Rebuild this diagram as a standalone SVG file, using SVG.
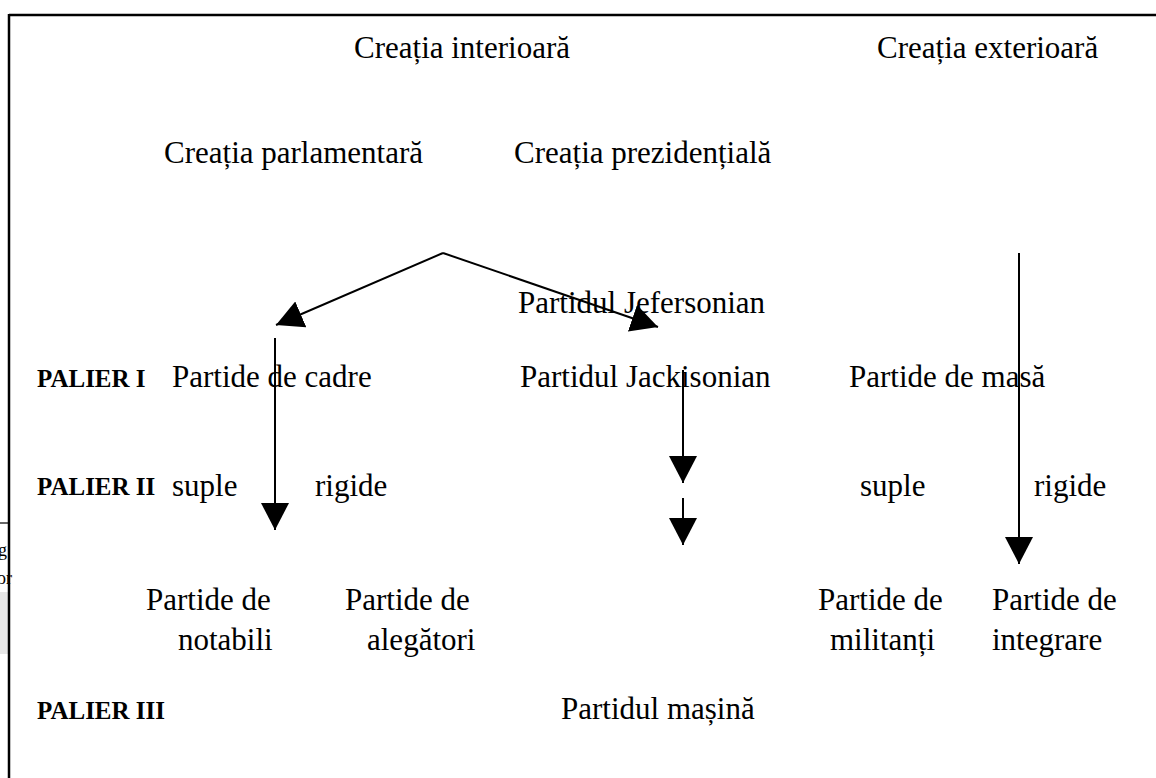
<svg xmlns="http://www.w3.org/2000/svg" width="1156" height="778" viewBox="0 0 1156 778">
  <defs>
    <marker id="head" viewBox="0 0 27 28" markerWidth="27" markerHeight="28" refX="27" refY="14" orient="auto" markerUnits="userSpaceOnUse">
      <path d="M0,0 L27,14 L0,28 Z" fill="#000"/>
    </marker>
    <style>
      .t { font-family: "Liberation Serif", "Times New Roman", serif; font-size: 31px; fill: #000; }
      .lvl { font-family: "Liberation Serif", "Times New Roman", serif; font-size: 25px; font-weight: bold; fill: #000; }
      .side { font-family: "Liberation Serif", "Times New Roman", serif; font-size: 18px; fill: #000; }
      .edge { stroke: #000; stroke-width: 2; fill: none; }
    </style>
  </defs>

  <rect width="1156" height="778" fill="#fff"/>

  <!-- neighbouring page fragment at the left margin -->
  <g id="margin">
    <line x1="0" y1="523" x2="9" y2="523" stroke="#333" stroke-width="1.5"/>
    <text class="side" x="-2" y="556">g</text>
    <text class="side" x="-3" y="584">or</text>
    <rect x="0" y="592" width="9" height="62" fill="#e6e6e6"/>
  </g>

  <!-- frame -->
  <g id="frame">
    <line x1="9" y1="15" x2="1156" y2="15" stroke="#000" stroke-width="2.5"/>
    <line x1="9" y1="14" x2="9" y2="778" stroke="#000" stroke-width="2.5"/>
  </g>

  <g id="creatia-interioara"><text class="t" x="354" y="58">Creația interioară</text></g>
  <g id="creatia-exterioara"><text class="t" x="877" y="58">Creația exterioară</text></g>
  <g id="creatia-parlamentara"><text class="t" x="164" y="163">Creația parlamentară</text></g>
  <g id="creatia-prezidentiala"><text class="t" x="514" y="163">Creația prezidențială</text></g>
  <g id="partidul-jefersonian"><text class="t" x="518" y="313">Partidul Jefersonian</text></g>

  <g id="palier-1"><text class="lvl" x="37" y="387">PALIER I</text></g>
  <g id="partide-cadre"><text class="t" x="172" y="387">Partide de cadre</text></g>
  <g id="partidul-jackisonian"><text class="t" x="520" y="387">Partidul Jackisonian</text></g>
  <g id="partide-masa"><text class="t" x="849" y="387">Partide de masă</text></g>

  <g id="palier-2"><text class="lvl" x="37" y="495">PALIER II</text></g>
  <g id="suple-cadre"><text class="t" x="172" y="496">suple</text></g>
  <g id="rigide-cadre"><text class="t" x="315" y="496">rigide</text></g>
  <g id="suple-masa"><text class="t" x="860" y="496">suple</text></g>
  <g id="rigide-masa"><text class="t" x="1034" y="496">rigide</text></g>

  <g id="partide-notabili">
    <text class="t" x="146" y="610">Partide de</text>
    <text class="t" x="178" y="650">notabili</text>
  </g>
  <g id="partide-alegatori">
    <text class="t" x="345" y="610">Partide de</text>
    <text class="t" x="367" y="650">alegători</text>
  </g>
  <g id="partide-militanti">
    <text class="t" x="818" y="610">Partide de</text>
    <text class="t" x="830" y="650">militanți</text>
  </g>
  <g id="partide-integrare">
    <text class="t" x="992" y="610">Partide de</text>
    <text class="t" x="992" y="650">integrare</text>
  </g>

  <g id="palier-3"><text class="lvl" x="37" y="719">PALIER III</text></g>
  <g id="partidul-masina"><text class="t" x="561" y="719">Partidul mașină</text></g>

  <!-- connectors -->
  <g id="connectors">
    <line class="edge" x1="443" y1="253" x2="276" y2="325" marker-end="url(#head)"/>
    <line class="edge" x1="443" y1="253" x2="658" y2="327" marker-end="url(#head)"/>
    <line class="edge" x1="275" y1="338" x2="275" y2="530" marker-end="url(#head)"/>
    <line class="edge" x1="683" y1="370" x2="683" y2="483" marker-end="url(#head)"/>
    <line class="edge" x1="683" y1="498" x2="683" y2="545" marker-end="url(#head)"/>
    <line class="edge" x1="1019" y1="253" x2="1019" y2="564" marker-end="url(#head)"/>
  </g>
</svg>
